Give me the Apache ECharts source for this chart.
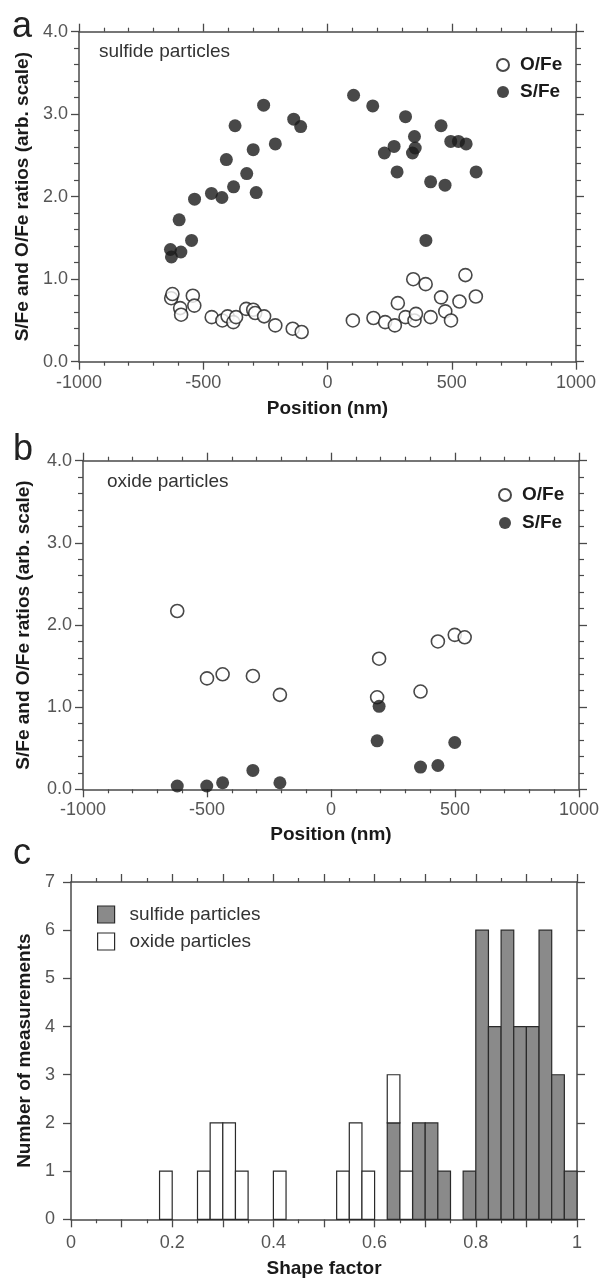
<!DOCTYPE html>
<html>
<head>
<meta charset="utf-8">
<title>S/Fe and O/Fe ratios, shape factor</title>
<script src="https://cdn.jsdelivr.net/npm/echarts@6.0.0/dist/echarts.min.js"></script>
<style>
  html, body { margin: 0; padding: 0; background: #fff; }
  #chart { width: 603px; height: 1279px; }
</style>
</head>
<body>
<div id="chart"></div>
<script>
// panel a: sulfide particles
const aOFePos = [-629, -624, -593, -589, -542, -536, -466, -423, -402, -379, -368, -327, -299, -291, -255, -210, -140, -104,
  102, 185, 232, 271, 283, 314, 345, 350, 356, 395, 415, 457, 474, 497, 531, 555, 597]
const aOFeRatio = [0.77, 0.82, 0.65, 0.57, 0.80, 0.68, 0.54, 0.50, 0.55, 0.48, 0.54, 0.64, 0.63, 0.59, 0.55, 0.44, 0.40, 0.36,
  0.50, 0.53, 0.48, 0.44, 0.71, 0.54, 1.00, 0.50, 0.58, 0.94, 0.54, 0.78, 0.61, 0.50, 0.73, 1.05, 0.79]
const aSFePos = [-632, -628, -597, -590, -547, -535, -467, -425, -407, -378, -372, -325, -299, -287, -257, -210, -136, -108,
  105, 182, 229, 268, 280, 314, 342, 350, 353, 396, 415, 457, 473, 496, 527, 558, 598]
const aSFeRatio = [1.36, 1.27, 1.72, 1.33, 1.47, 1.97, 2.04, 1.99, 2.45, 2.12, 2.86, 2.28, 2.57, 2.05, 3.11, 2.64, 2.94, 2.85,
  3.23, 3.10, 2.53, 2.61, 2.30, 2.97, 2.53, 2.73, 2.59, 1.47, 2.18, 2.86, 2.14, 2.67, 2.67, 2.64, 2.30]

// panel b: oxide particles
const bOFePos = [-620, -500, -437, -315, -206, 186, 194, 361, 431, 499, 539]
const bOFeRatio = [2.17, 1.35, 1.40, 1.38, 1.15, 1.12, 1.59, 1.19, 1.80, 1.88, 1.85]
const bSFePos = [-620, -501, -437, -315, -206, 186, 194, 361, 431, 499]
const bSFeRatio = [0.04, 0.04, 0.08, 0.23, 0.08, 0.59, 1.01, 0.27, 0.29, 0.57]

// panel c: shape factor histogram (bins of 0.025, oxide stacked on sulfide)
const binWidth = 0.025
const binStart = [0.175, 0.25, 0.275, 0.3, 0.325, 0.4, 0.525, 0.55, 0.575, 0.625, 0.65, 0.675, 0.7, 0.725, 0.775,
  0.8, 0.825, 0.85, 0.875, 0.9, 0.925, 0.95, 0.975]
const sulfideCount = [0, 0, 0, 0, 0, 0, 0, 0, 0, 2, 0, 2, 2, 1, 1, 6, 4, 6, 4, 4, 6, 3, 1]
const oxideCount = [1, 1, 2, 2, 1, 1, 1, 2, 1, 1, 1, 0, 0, 0, 0, 0, 0, 0, 0, 0, 0, 0, 0]

const FONT = '"Liberation Sans", Arial, sans-serif'
const AXIS = '#4a4a4a'
const LABEL = '#555'
const INK = '#1a1a1a'

const zip = (xs, ys) => xs.map((x, i) => [x, ys[i]])

function xAxes(gridIndex, min, max, interval, minorSplit, formatter, name, nameGap, margin) {
  const common = {
    gridIndex, type: 'value', min, max, interval,
    axisLine: { show: true, onZero: false, lineStyle: { color: AXIS, width: 1.5 } },
    axisTick: { show: true, length: 8, lineStyle: { color: AXIS, width: 1.3 } },
    minorTick: { show: minorSplit > 1, splitNumber: minorSplit, length: 4, lineStyle: { color: AXIS, width: 1.2 } },
    splitLine: { show: false },
  }
  return [
    { ...common, position: 'bottom', name, nameLocation: 'middle', nameGap,
      nameTextStyle: { fontFamily: FONT, fontSize: 19, fontWeight: 'bold', color: INK },
      axisLabel: { fontFamily: FONT, fontSize: 18, color: LABEL, margin, formatter } },
    { ...common, position: 'top', axisLabel: { show: false } },
  ]
}

function yAxes(gridIndex, min, max, interval, minorSplit, formatter, name, nameGap, margin) {
  const common = {
    gridIndex, type: 'value', min, max, interval,
    axisLine: { show: true, onZero: false, lineStyle: { color: AXIS, width: 1.5 } },
    axisTick: { show: true, length: 8, lineStyle: { color: AXIS, width: 1.3 } },
    minorTick: { show: minorSplit > 1, splitNumber: minorSplit, length: 5, lineStyle: { color: AXIS, width: 1.2 } },
    splitLine: { show: false },
  }
  return [
    { ...common, position: 'left', name, nameLocation: 'middle', nameGap,
      nameTextStyle: { fontFamily: FONT, fontSize: 19, fontWeight: 'bold', color: INK },
      axisLabel: { fontFamily: FONT, fontSize: 18, color: LABEL, margin, formatter } },
    { ...common, position: 'right', axisLabel: { show: false } },
  ]
}

const openCircle = { color: '#fff', borderColor: INK, borderWidth: 1.6 }
const filledCircle = { color: INK }

function scatter(name, axis, data, style) {
  return {
    name, type: 'scatter', xAxisIndex: axis, yAxisIndex: axis, data,
    symbol: 'circle', symbolSize: 13, itemStyle: style, emphasis: { disabled: true },
  }
}

function histRect(fill) {
  return function (params, api) {
    const p0 = api.coord([api.value(0), api.value(2)])
    const p1 = api.coord([api.value(1), api.value(3)])
    return {
      type: 'rect',
      shape: { x: p0[0], y: p1[1], width: p1[0] - p0[0], height: p0[1] - p1[1] },
      style: { fill, stroke: '#2a2a2a', lineWidth: 1.2 },
    }
  }
}

const sulfideBars = binStart.map((x, i) => [x, x + binWidth, 0, sulfideCount[i]]).filter(d => d[3] > 0)
const oxideBars = binStart.map((x, i) => [x, x + binWidth, sulfideCount[i], sulfideCount[i] + oxideCount[i]]).filter(d => d[3] > d[2])

const ratioFmt = v => v.toFixed(1)
const posFmt = v => String(v)
const shapeFmt = v => (Math.round(v * 10) % 2 === 0 ? String(Math.round(v * 10) / 10) : '')
const countFmt = v => String(v)

const legendText = { fontFamily: FONT, fontSize: 19, fontWeight: 'bold', color: INK, lineHeight: 20, padding: [0, 0, 0, 6] }

const chart = echarts.init(document.getElementById('chart'), null, { renderer: 'canvas' })
chart.setOption({
  animation: false,
  backgroundColor: '#fff',
  grid: [
    { left: 79, top: 31.7, width: 497, height: 330, outerBoundsMode: 'none', containLabel: false },
    { left: 83, top: 460.7, width: 496, height: 328.6, outerBoundsMode: 'none', containLabel: false },
    { left: 71, top: 882, width: 506, height: 337.3, outerBoundsMode: 'none', containLabel: false },
  ],
  xAxis: [
    ...xAxes(0, -1000, 1000, 500, 5, posFmt, 'Position (nm)', 38, 12),
    ...xAxes(1, -1000, 1000, 500, 5, posFmt, 'Position (nm)', 36, 12),
    ...xAxes(2, 0, 1, 0.1, 2, shapeFmt, 'Shape factor', 40, 15),
  ],
  yAxis: [
    ...yAxes(0, 0, 4, 1, 5, ratioFmt, 'S/Fe and O/Fe ratios (arb. scale)', 46, 11),
    ...yAxes(1, 0, 4, 1, 5, ratioFmt, 'S/Fe and O/Fe ratios (arb. scale)', 50, 11),
    ...yAxes(2, 0, 7, 1, 1, countFmt, 'Number of measurements', 36, 16),
  ],
  legend: [
    { data: ['O/Fe', 'S/Fe'], orient: 'vertical', left: 491, top: 50, itemWidth: 12, itemHeight: 12,
      itemGap: 7, textStyle: legendText, selectedMode: false },
    { data: ['O/Fe', 'S/Fe'], orient: 'vertical', left: 493, top: 480, itemWidth: 12, itemHeight: 12,
      itemGap: 8, textStyle: legendText, selectedMode: false },
    { data: [
        { name: 'sulfide particles', icon: 'rect', itemStyle: { color: '#8a8a8a', borderColor: '#2a2a2a', borderWidth: 1.2 } },
        { name: 'oxide particles', icon: 'rect', itemStyle: { color: '#fff', borderColor: '#2a2a2a', borderWidth: 1.2 } },
      ],
      orient: 'vertical', left: 92, top: 900, itemWidth: 17, itemHeight: 17, itemGap: 8, selectedMode: false,
      textStyle: { fontFamily: FONT, fontSize: 19, color: '#333', lineHeight: 19, padding: [0, 0, 0, 10] } },
  ],
  graphic: [
    { type: 'text', left: 12, top: 9, style: { text: 'a', fontFamily: FONT, fontSize: 36, fill: '#222' } },
    { type: 'text', left: 13, top: 432, style: { text: 'b', fontFamily: FONT, fontSize: 36, fill: '#222' } },
    { type: 'text', left: 13, top: 836, style: { text: 'c', fontFamily: FONT, fontSize: 36, fill: '#222' } },
    { type: 'text', left: 99, top: 42, style: { text: 'sulfide particles', fontFamily: FONT, fontSize: 19, fill: '#333' } },
    { type: 'text', left: 107, top: 472, style: { text: 'oxide particles', fontFamily: FONT, fontSize: 19, fill: '#333' } },
  ],
  series: [
    scatter('O/Fe', 0, zip(aOFePos, aOFeRatio), openCircle),
    scatter('S/Fe', 0, zip(aSFePos, aSFeRatio), filledCircle),
    scatter('O/Fe', 2, zip(bOFePos, bOFeRatio), openCircle),
    scatter('S/Fe', 2, zip(bSFePos, bSFeRatio), filledCircle),
    {
      name: 'sulfide particles', type: 'custom', xAxisIndex: 4, yAxisIndex: 4,
      encode: { x: [0, 1], y: [2, 3] }, data: sulfideBars, renderItem: histRect('#8a8a8a'),
      itemStyle: { color: '#8a8a8a' },
    },
    {
      name: 'oxide particles', type: 'custom', xAxisIndex: 4, yAxisIndex: 4,
      encode: { x: [0, 1], y: [2, 3] }, data: oxideBars, renderItem: histRect('#fff'),
      itemStyle: { color: '#fff' },
    },
  ],
})
</script>
</body>
</html>
